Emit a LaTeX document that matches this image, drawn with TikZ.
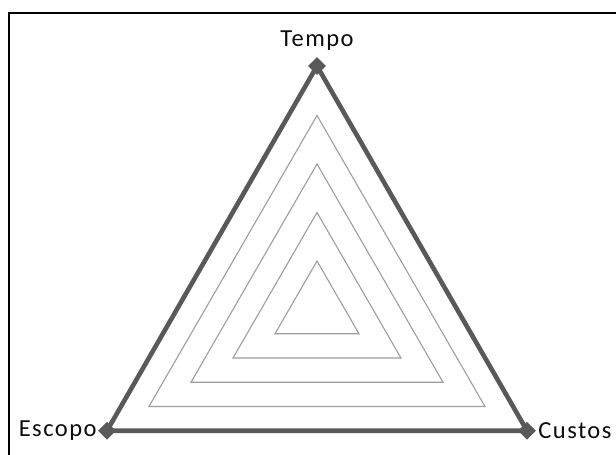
\documentclass[tikz,border=0pt]{standalone}
\usepackage{fontspec}
\setmainfont{Carlito}
\usepackage{tikz}
\usetikzlibrary{calc,positioning,shapes.geometric}

\begin{document}
\begin{tikzpicture}[
  x=1pt,y=-1pt,
  grid line/.style={draw=black!38,line width=1.1pt,line join=miter},
  data line/.style={draw=black!65,line width=4.6pt,line join=round},
  vertex mark/.style={diamond,fill=black!65,inner sep=0pt,minimum size=18pt},
  axis label/.style={inner sep=0pt,text=black!95,
    font=\fontsize{24.5}{28}\selectfont\addfontfeature{LetterSpace=6}},
  frame line/.style={draw=black,line width=2pt}
]
\useasboundingbox[fill=white] (0,0) rectangle (616,455);

% chart frame (right and bottom edges lie outside the picture)
\draw[frame line] (9,470) |- (630,13);

% radar centre and the three axis ends
\coordinate (centre) at (317,309.5);
\coordinate (tempo-end) at ($(centre)+(-90:243.5)$);
\coordinate (custos-end) at ($(centre)+(30:242.5)$);
\coordinate (escopo-end) at ($(centre)+(150:242.5)$);

% inner grid triangles
\foreach \lvl in {1,...,4}{
  \draw[grid line] ($(centre)+(-90:48.5*\lvl)$) -- ($(centre)+(30:48.5*\lvl)$)
    -- ($(centre)+(150:48.5*\lvl)$) -- cycle;
}

% data series
\draw[data line] (tempo-end) -- (custos-end) -- (escopo-end) -- cycle;
\node[vertex mark] (tempo) at (tempo-end) {};
\node[vertex mark] (custos) at (custos-end) {};
\node[vertex mark] (escopo) at (escopo-end) {};

% axis labels
\node[axis label,above=6pt of tempo] (tempo-label) {Tempo};
\node[axis label,left=1pt of escopo] (escopo-label) {Escopo};
\node[axis label,right=2pt of custos] (custos-label) {Custos};
\end{tikzpicture}
\end{document}
